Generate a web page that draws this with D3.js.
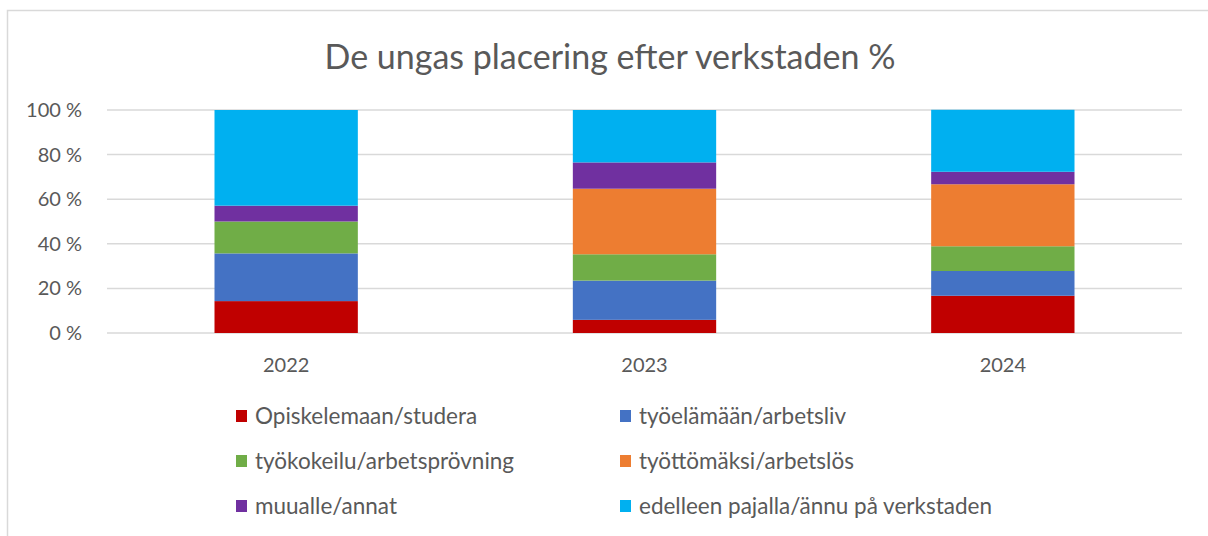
<!DOCTYPE html>
<html>
<head>
<meta charset="utf-8">
<script src="https://d3js.org/d3.v7.min.js"></script>
<style>
  body { margin: 0; background: #fff; }
  svg text { font-family: Lato, "Open Sans", sans-serif; fill: #595959; }
</style>
</head>
<body>
<svg id="chart" width="1208" height="536"></svg>
<script>
// chart data
var years = ["2022", "2023", "2024"];
var seriesNames = [
  "Opiskelemaan/studera",
  "työelämään/arbetsliv",
  "työkokeilu/arbetsprövning",
  "työttömäksi/arbetslös",
  "muualle/annat",
  "edelleen pajalla/ännu på verkstaden"
];
var opiskelemaan = [14.3, 5.9, 16.7];
var tyoelamaan   = [21.4, 17.6, 11.1];
var tyokokeilu   = [14.3, 11.8, 11.1];
var tyottomaksi  = [0, 29.4, 27.8];
var muualle      = [7.1, 11.8, 5.6];
var edelleen     = [42.9, 23.5, 27.8];
var yTicks = [0, 20, 40, 60, 80, 100];
var colors = ["#C00000", "#4472C4", "#70AD47", "#ED7D31", "#7030A0", "#00B0F0"];

var allSeries = [opiskelemaan, tyoelamaan, tyokokeilu, tyottomaksi, muualle, edelleen];

var svg = d3.select("#chart");

// outer chart border (runs off the right/bottom of the picture)
svg.append("rect")
  .attr("x", 7.5).attr("y", 10.5)
  .attr("width", 1220).attr("height", 540)
  .attr("fill", "none")
  .attr("stroke", "#D9D9D9")
  .attr("stroke-width", 1.5);

// title
svg.append("text")
  .attr("x", 610).attr("y", 69)
  .attr("text-anchor", "middle")
  .style("font-size", "34px")
  .text("De ungas placering efter verkstaden %");

// plot area (don't call it "top", that's window.top)
var plotLeft = 107, plotRight = 1182, plotTop = 110, plotBottom = 333;

var x = d3.scaleBand()
  .domain(years)
  .range([plotLeft, plotRight])
  .paddingInner(0.6)
  .paddingOuter(0.3);

var y = d3.scaleLinear()
  .domain([0, 100])
  .range([plotBottom, plotTop]);

// gridlines
svg.append("g")
  .selectAll("line")
  .data(yTicks)
  .join("line")
  .attr("x1", plotLeft).attr("x2", plotRight)
  .attr("y1", d => y(d)).attr("y2", d => y(d))
  .attr("stroke", "#D9D9D9")
  .attr("stroke-width", 1.5);

// y axis labels
var yAxis = d3.axisLeft(y)
  .tickValues(yTicks)
  .tickSize(0)
  .tickPadding(25)
  .tickFormat(d => d + " %");
svg.append("g")
  .attr("transform", "translate(" + plotLeft + ",0)")
  .call(yAxis)
  .call(g => g.select(".domain").remove())
  .selectAll("text")
  .style("font-size", "20px")
  .attr("fill", "#595959");

// x axis labels
var xAxis = d3.axisBottom(x).tickSize(0).tickPadding(25);
svg.append("g")
  .attr("transform", "translate(0," + plotBottom + ")")
  .call(xAxis)
  .call(g => g.select(".domain").remove())
  .selectAll("text")
  .style("font-size", "20px")
  .attr("fill", "#595959");

// stack the series
var rows = years.map(function(yr, i) {
  var row = { year: yr };
  seriesNames.forEach(function(name, s) { row[name] = allSeries[s][i]; });
  return row;
});
var stacked = d3.stack().keys(seriesNames)(rows);

svg.append("g")
  .selectAll("g")
  .data(stacked)
  .join("g")
  .attr("fill", (d, i) => colors[i])
  .selectAll("rect")
  .data(d => d)
  .join("rect")
  .attr("x", d => x(d.data.year))
  .attr("width", x.bandwidth())
  .attr("y", d => y(d[1]))
  .attr("height", d => y(d[0]) - y(d[1]));

// legend, two columns, three rows
var legend = svg.append("g");
var item = legend.selectAll("g")
  .data(seriesNames)
  .join("g")
  .attr("transform", (d, i) => "translate(" + (i % 2 === 0 ? 236 : 620) + "," + (416 + Math.floor(i / 2) * 45) + ")");
item.append("rect")
  .attr("x", 0).attr("y", -6)
  .attr("width", 11).attr("height", 12)
  .attr("fill", (d, i) => colors[i]);
item.append("text")
  .attr("x", 19)
  .attr("dy", "0.35em")
  .style("font-size", "22.5px")
  .text(d => d);
</script>
</body>
</html>
